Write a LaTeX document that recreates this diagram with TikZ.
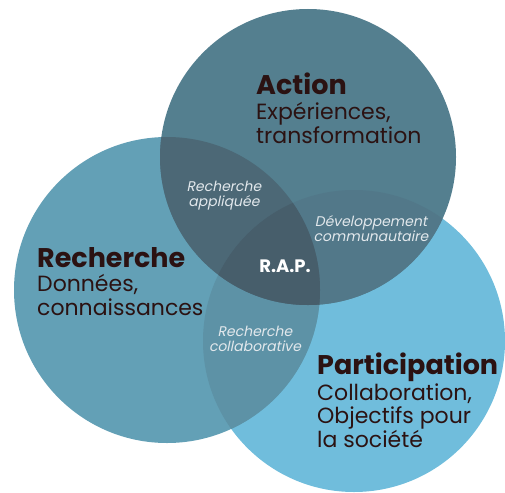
\documentclass[tikz,border=0pt]{standalone}
\usepackage{fontspec}
\setmainfont{Poppins}
\newfontfamily\labelfont[FakeSlant=0.2]{Poppins}
\usetikzlibrary{positioning}

\definecolor{actcol}{HTML}{547F8F}
\definecolor{reccol}{HTML}{63A0B6}
\definecolor{parcol}{HTML}{70BDDC}
\definecolor{arcol}{HTML}{4C6876}
\definecolor{apcol}{HTML}{527889}
\definecolor{rpcol}{HTML}{5D92A6}
\definecolor{rapcol}{HTML}{475E6B}
\definecolor{txtcol}{HTML}{2B1212}
\definecolor{labcol}{HTML}{E2E8EC}

\begin{document}
\begin{tikzpicture}[x=1pt,y=-1pt,
   title/.style={anchor=base west,inner sep=0pt,text=txtcol,
    font=\bfseries\fontsize{27}{27}\selectfont},
   sub/.style={anchor=base west,inner sep=0pt,text=txtcol,align=left,
    font=\fontsize{22}{23.5}\selectfont},
   lab/.style={inner sep=0pt,text=labcol,align=center,
    font=\labelfont\fontsize{14}{15}\selectfont}
    ]

    \useasboundingbox (0,0) rectangle (505,492);

    % Circles:
    \fill[parcol] (354,341) circle (151);
    \fill[reccol] (167,290) circle (153);
    \fill[actcol] (308,157) circle (148);

    % Overlaps:
    \begin{scope}
      \clip (167,290) circle (153);
      \fill[rpcol] (354,341) circle (151);
    \end{scope}
    \begin{scope}
      \clip (308,157) circle (148);
      \fill[apcol] (354,341) circle (151);
    \end{scope}
    \begin{scope}
      \clip (308,157) circle (148);
      \fill[arcol] (167,290) circle (153);
    \end{scope}
    \begin{scope}
      \clip (308,157) circle (148);
      \clip (167,290) circle (153);
      \fill[rapcol] (354,341) circle (151);
    \end{scope}

    % Titles (sub texts sit on their last line):
    \node[title] at (256,95) (act) {Action};
    \node[sub] at (256,143) (actsub) {Expériences,\\transformation};
    \node[title] at (37,267) (rec) {Recherche};
    \node[sub] at (37,315) (recsub) {Données,\\connaissances};
    \node[title] at (317,374) (par) {Participation};
    \node[sub] at (317,447) (parsub) {Collaboration,\\Objectifs pour\\la société};

    % Labels:
    \node[lab] at (224,196) (appl) {Recherche\\appliquée};
    \node[lab] at (371,229) (dev) {Développement\\communautaire};
    \node[lab] at (255,339) (coll) {Recherche\\collaborative};
    \node[anchor=base,inner sep=0pt,text=white,
      font=\bfseries\fontsize{18}{18}\selectfont] at (285,272) (rap) {R.A.P.};

\end{tikzpicture}
\end{document}
